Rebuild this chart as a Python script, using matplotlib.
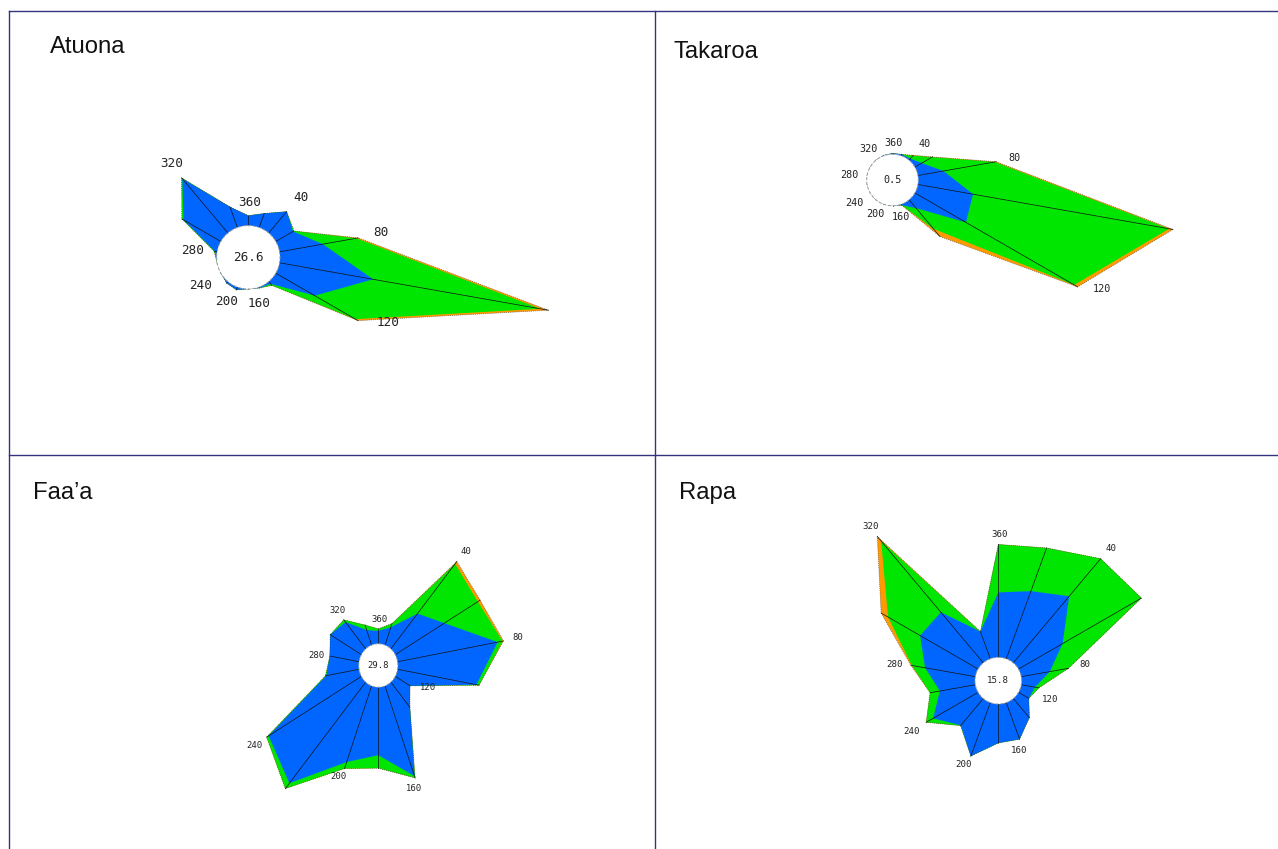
import numpy as np
import matplotlib
matplotlib.use("Agg")
import matplotlib.pyplot as plt
from matplotlib.lines import Line2D

# ---------------- data ----------------
DIRECTIONS = [0, 20, 40, 60, 80, 100, 120, 140, 160, 180, 200, 220, 240, 260, 280, 300, 320, 340]
LABEL_DIRS = [0, 40, 80, 120, 160, 200, 240, 280, 320]
STATIONS = ["Atuona", "Takaroa", "Faa\u2019a", "Rapa"]
CALM = [26.6, 0.5, 29.8, 15.8]

ATUONA_LOW = [10, 15, 28, 20, 44, 95, 45, 3, 1, 0, 3, 2, 0, 0, 2, 43, 71, 22]
ATUONA_MID = [0, 0, 0, 1, 34, 170, 47, 2, 0, 0, 0, 0, 0, 0, 1, 2, 1, 0]
ATUONA_HIGH = [0, 0, 0, 0, 2, 8, 3, 0, 0, 0, 0, 0, 0, 0, 0, 0, 0, 0]

TAKAROA_LOW = [1, 1.5, 2, 8, 26, 56, 59, 11, 1, 0, 0, 0, 0, 0, 0, 0, 0, 0.5]
TAKAROA_MID = [0, 0, 4, 12, 52, 199, 125, 27, 0, 0, 0, 0, 0, 0, 0, 0, 0, 0]
TAKAROA_HIGH = [0, 0, 0.5, 0.5, 1.5, 4, 4, 10, 0, 0, 0, 0, 0, 0, 0, 0, 0, 0]

FAAA_LOW = [13, 19, 46, 63, 113, 89, 19, 33, 96, 68, 81, 132, 119, 37, 33, 40, 35, 16]
FAAA_MID = [2, 4, 65, 43, 5.5, 3, 0, 0, 2, 13, 7, 7, 2.6, 1, 0, 0, 3, 5.4]
FAAA_HIGH = [0, 0, 3, 3, 1, 0, 0, 0, 0, 0, 0, 0, 0, 0, 0, 0, 0, 0]

RAPA_LOW = [65, 72, 87, 51, 29, 14, 12, 25, 39, 39, 57, 35, 52, 36, 51, 67, 66, 29]
RAPA_MID = [48, 46, 49, 91, 19, 4, 0, 0, 0, 0, 0, 0.4, 8, 10, 13.5, 37, 93, 0]
RAPA_HIGH = [0, 0, 0, 0, 0, 0, 0, 0, 0, 0, 0, 0, 0, 0, 1, 8, 6, 0]

SERIES = [
    (ATUONA_LOW, ATUONA_MID, ATUONA_HIGH),
    (TAKAROA_LOW, TAKAROA_MID, TAKAROA_HIGH),
    (FAAA_LOW, FAAA_MID, FAAA_HIGH),
    (RAPA_LOW, RAPA_MID, RAPA_HIGH),
]

# ---------------- layout / style ----------------
W, H = 1278, 849
DPI = 100
CENTERS = [(248.3, 257.3), (892.5, 180.0), (378.3, 665.5), (998.3, 680.7)]
CALM_R = [31.7, 25.8, 21.7, 23.3]
X_SQUEEZE = [1.0, 1.0, 0.9, 1.0]
LABEL_PT = [9.1, 7.3, 6.4, 6.6]
TITLE_POS = [(50, 53), (673, 58), (33, 499), (679, 499)]
LABEL_OFF = {0: (1.5, -13), 40: (14, -14), 80: (22.5, -5), 120: (29.5, 2),
             160: (-1, 15), 200: (-10, 12), 240: (-20, 12), 280: (-22, -1),
             320: (-9.5, -14)}
C_LOW, C_MID, C_HIGH = "#0066FF", "#00E600", "#FF9900"
GRID_C = "#33337F"

fig = plt.figure(figsize=(W / DPI, H / DPI), dpi=DPI)
fig.patch.set_facecolor("white")


def fline(x0, y0, x1, y1):
    fig.add_artist(Line2D([x0 / W, x1 / W], [1 - y0 / H, 1 - y1 / H],
                          color=GRID_C, lw=1.0, transform=fig.transFigure))


fline(9, 11, W, 11)
fline(9, 11, 9, H)
fline(654.5, 11, 654.5, H)
fline(9, 455, W, 455)

theta = np.deg2rad(DIRECTIONS)
theta_c = np.append(theta, theta[0])
circ_t = np.linspace(0, 2 * np.pi, 361)

for i, name in enumerate(STATIONS):
    low, mid, high = (np.array(s, dtype=float) for s in SERIES[i])
    rc = CALM_R[i]
    r1 = rc + low
    r2 = r1 + mid
    r3 = r2 + high
    cx, cy = CENTERS[i]
    sx = X_SQUEEZE[i]
    R = 360.0
    ax = fig.add_axes([(cx - R * sx) / W, (H - cy - R) / H, 2 * R * sx / W, 2 * R / H],
                      projection="polar")
    ax.set_aspect("auto")
    ax.set_theta_zero_location("N")
    ax.set_theta_direction(-1)
    ax.set_rlim(0, R)
    ax.set_axis_off()
    ax.patch.set_alpha(0)

    ax.fill(theta_c, np.append(r3, r3[0]), color=C_HIGH, lw=0, zorder=1)
    ax.fill(theta_c, np.append(r2, r2[0]), color=C_MID, lw=0, zorder=2)
    ax.fill(theta_c, np.append(r1, r1[0]), color=C_LOW, lw=0, zorder=3)
    ax.plot(theta_c, np.append(r3, r3[0]), color="#333333", lw=0.5,
            ls=(0, (1.5, 1.5)), alpha=0.7, zorder=4)
    for t, rt in zip(theta, r3):
        ax.plot([t, t], [0, rt], color="#111111", lw=0.5, zorder=5)

    ax.fill(circ_t, np.full_like(circ_t, rc), facecolor="white",
            edgecolor="#9a9a9a", lw=0.7, ls=(0, (3, 2)), zorder=6)
    ax.text(0, 0, f"{CALM[i]}", ha="center", va="center",
            fontsize=LABEL_PT[i], family="DejaVu Sans Mono", color="#222222",
            zorder=7)

    k = rc / CALM_R[0]
    for d in LABEL_DIRS:
        j = DIRECTIONS.index(d)
        ox, oy = LABEL_OFF[d]
        lbl = "360" if d == 0 else str(d)
        ax.annotate(lbl, xy=(theta[j], r3[j]), xytext=(ox * k * sx, -oy * k),
                    textcoords="offset pixels", ha="center", va="center",
                    fontsize=LABEL_PT[i], family="DejaVu Sans Mono",
                    color="#222222", annotation_clip=False, zorder=7)

    tx, ty = TITLE_POS[i]
    fig.text(tx / W, 1 - ty / H, name, ha="left", va="baseline",
             fontsize=17.2, family="Liberation Sans", color="#111111")

fig.savefig("out.png", dpi=DPI)
